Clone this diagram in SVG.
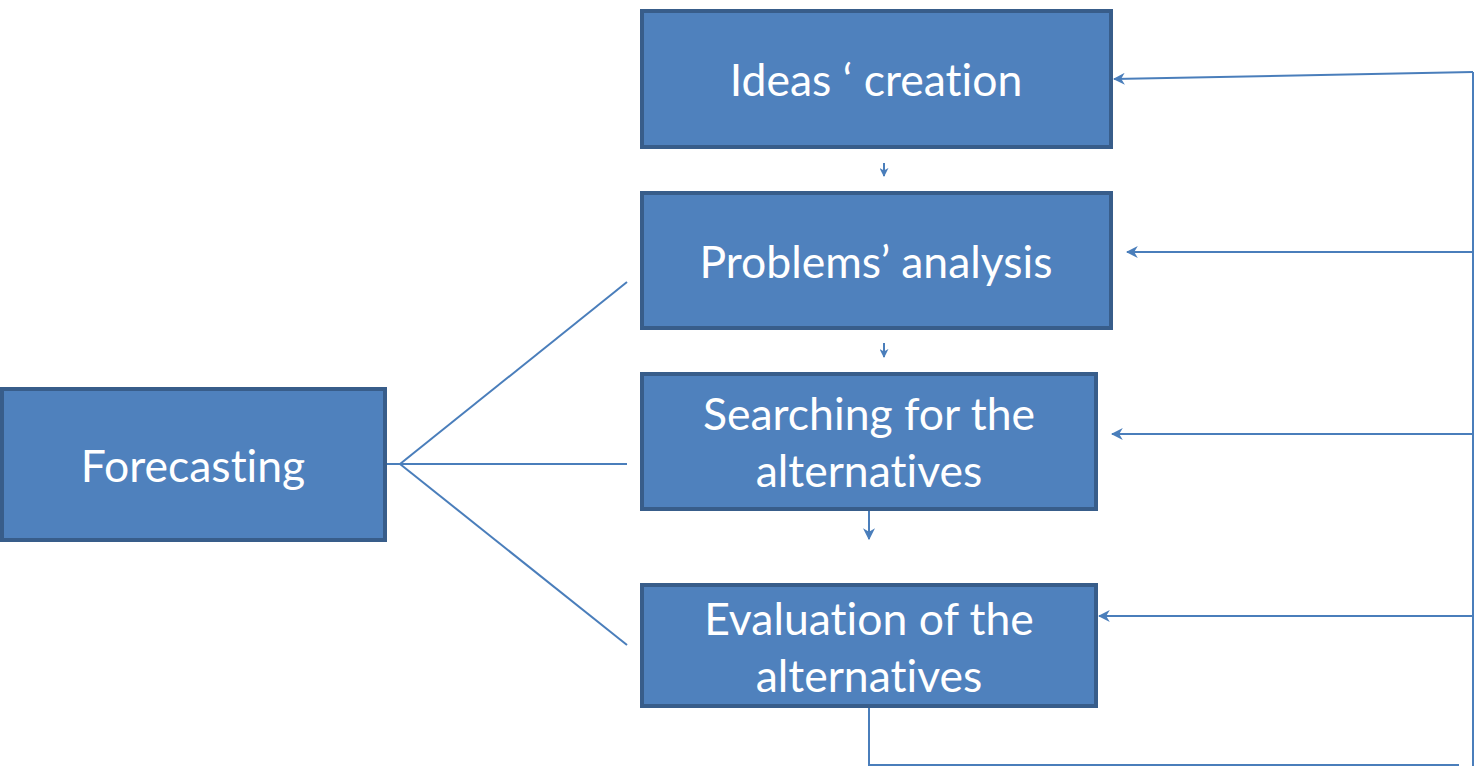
<svg xmlns="http://www.w3.org/2000/svg" width="1476" height="766" viewBox="0 0 1476 766">
<defs>
<style>
.box{fill:#4F81BD;stroke:#385D8A;stroke-width:4}
.lbl{font-family:Lato,"Open Sans",sans-serif;font-size:44.5px;fill:#FFFFFF;text-anchor:middle;font-variant-ligatures:none}
.ln{fill:none;stroke:#4A7EBB;stroke-width:2}
</style>
<marker id="ahs" viewBox="0 0 10 10" refX="9" refY="5" markerWidth="9" markerHeight="9" orient="auto" markerUnits="userSpaceOnUse">
<path d="M0,0 L10,5 L0,10 L3,5 Z" fill="#4A7EBB"/>
</marker>
<marker id="ahb" viewBox="0 0 10 10" refX="9" refY="5" markerWidth="12" markerHeight="12" orient="auto" markerUnits="userSpaceOnUse">
<path d="M0,0 L10,5 L0,10 L3,5 Z" fill="#4A7EBB"/>
</marker>
</defs>
<rect width="1476" height="766" fill="#FFFFFF"/>
<g id="connectors">
<line class="ln" x1="400" y1="464" x2="627" y2="282"/>
<line class="ln" x1="387" y1="464" x2="627" y2="464"/>
<line class="ln" x1="400" y1="464" x2="627" y2="645"/>
<line class="ln" x1="884" y1="163" x2="884" y2="176" marker-end="url(#ahs)"/>
<line class="ln" x1="884" y1="343" x2="884" y2="357" marker-end="url(#ahs)"/>
<line class="ln" x1="869" y1="511" x2="869" y2="539" marker-end="url(#ahb)"/>
<polyline class="ln" points="869,708 869,765 1459,765"/>
<line class="ln" x1="1473" y1="72" x2="1473" y2="766"/>
<line class="ln" x1="1473" y1="72" x2="1114" y2="79" marker-end="url(#ahb)"/>
<line class="ln" x1="1473" y1="252" x2="1127" y2="252" marker-end="url(#ahb)"/>
<line class="ln" x1="1473" y1="434" x2="1112" y2="434" marker-end="url(#ahb)"/>
<line class="ln" x1="1473" y1="616" x2="1099" y2="616" marker-end="url(#ahb)"/>
</g>
<g id="node-ideas">
<rect class="box" x="642" y="11" width="469" height="136"/>
<text class="lbl" x="876" y="96">Ideas ‘ creation</text>
</g>
<g id="node-problems">
<rect class="box" x="642" y="193" width="469" height="135"/>
<text class="lbl" x="876" y="278">Problems’ analysis</text>
</g>
<g id="node-searching">
<rect class="box" x="642" y="374" width="454" height="135"/>
<text class="lbl" x="869" y="430">Searching for the</text>
<text class="lbl" x="869" y="487">alternatives</text>
</g>
<g id="node-evaluation">
<rect class="box" x="642" y="585" width="454" height="121"/>
<text class="lbl" x="869" y="635">Evaluation of the</text>
<text class="lbl" x="869" y="692">alternatives</text>
</g>
<g id="node-forecasting">
<rect class="box" x="2" y="389" width="383" height="151"/>
<text class="lbl" x="193" y="482">Forecasting</text>
</g>
</svg>
